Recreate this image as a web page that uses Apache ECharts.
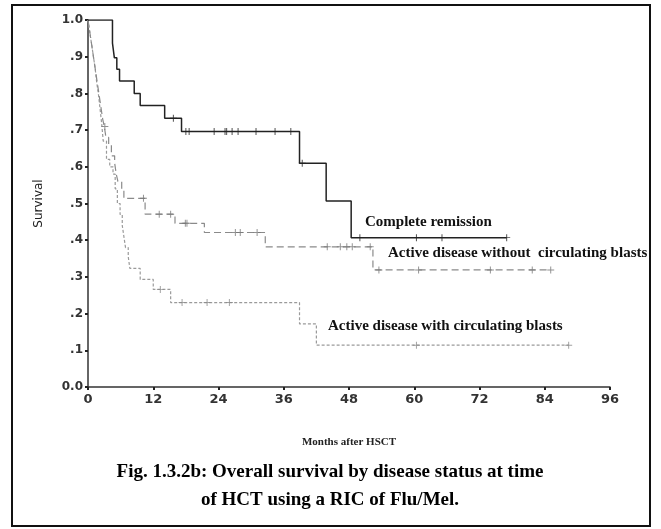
<!DOCTYPE html>
<html>
<head>
<meta charset="utf-8">
<script src="https://cdn.jsdelivr.net/npm/echarts@6.0.0/dist/echarts.min.js"></script>
<style>
  html, body { margin: 0; padding: 0; background: #fff; }
  #chart { width: 661px; height: 529px; }
</style>
</head>
<body>
<div id="chart"></div>
<script>
// Kaplan-Meier curves (months after HSCT vs survival).
var crTimes = [0, 4.5, 4.85, 5.3, 5.8, 8.5, 9.6, 14.1, 17.2, 38.9, 43.8, 48.4, 77];
var crSurv = [1.0, 0.937, 0.897, 0.866, 0.834, 0.800, 0.767, 0.732, 0.696, 0.610, 0.507, 0.407, 0.407];
var crCensored = [15.7, 18.0, 18.6, 23.2, 25.2, 25.5, 26.5, 27.6, 30.9, 34.4, 37.3, 39.4, 50, 60.4, 65.1, 77];

var withoutTimes = [0, 0.3, 0.6, 0.9, 1.2, 1.5, 1.8, 2.1, 2.4, 2.7, 3.0, 3.3, 3.8, 4.3, 4.9, 5.2, 5.5, 6.2, 6.6, 10.5, 16.0, 21.4, 32.6, 52.4, 85.1];
var withoutSurv = [1.0, 0.97, 0.94, 0.91, 0.88, 0.85, 0.82, 0.79, 0.76, 0.73, 0.71, 0.68, 0.66, 0.63, 0.61, 0.58, 0.56, 0.54, 0.514, 0.471, 0.446, 0.421, 0.382, 0.319, 0.319];
var withoutCensored = [3.1, 10.2, 13.1, 15.2, 17.9, 18.2, 27.1, 28, 31.1, 44, 46.4, 47.6, 48.6, 51.9, 53.5, 60.8, 74, 81.7, 85.1];

var withTimes = [0, 0.2, 0.4, 0.7, 1.0, 1.3, 1.6, 1.9, 2.2, 2.5, 2.8, 3.4, 4.0, 4.6, 5.0, 5.4, 5.9, 6.3, 6.6, 6.9, 7.4, 7.7, 9.6, 12, 15.2, 38.9, 42, 88.4];
var withSurv = [1.0, 0.98, 0.96, 0.93, 0.90, 0.87, 0.83, 0.80, 0.76, 0.72, 0.67, 0.62, 0.60, 0.58, 0.54, 0.50, 0.47, 0.44, 0.41, 0.38, 0.355, 0.323, 0.293, 0.266, 0.23, 0.172, 0.114, 0.114];
var withCensored = [13.3, 17.3, 21.9, 26, 60.4, 88.4];

var xTicks = [0, 12, 24, 36, 48, 60, 72, 84, 96];
var yTickLabels = ['0.0', '.1', '.2', '.3', '.4', '.5', '.6', '.7', '.8', '.9', '1.0'];

var CROSS = 'path://M-0.14,-1H0.14V-0.14H1V0.14H0.14V1H-0.14V0.14H-1V-0.14H-0.14Z';
var SERIF = '"Liberation Serif", "Times New Roman", serif';
var SANS = '"DejaVu Sans", Verdana, sans-serif';

function pairs(xs, ys) {
    var out = [];
    for (var i = 0; i < xs.length; i++) out.push([xs[i], ys[i]]);
    return out;
}

// survival value of a step curve at time t (used to put censor marks on the curve)
function survAt(xs, ys, t) {
    var v = ys[0];
    for (var i = 0; i < xs.length; i++) { if (xs[i] <= t) v = ys[i]; }
    return v;
}

function censorPoints(xs, ys, cens) {
    var out = [];
    for (var i = 0; i < cens.length; i++) out.push([cens[i], survAt(xs, ys, cens[i])]);
    return out;
}

function curve(name, xs, ys, color, width, dash) {
    return {
        name: name, type: 'line', step: 'end', data: pairs(xs, ys),
        showSymbol: false, silent: true, z: 3,
        lineStyle: { color: color, width: width, type: dash }
    };
}

function marks(name, xs, ys, cens, color) {
    return {
        name: name, type: 'scatter', data: censorPoints(xs, ys, cens),
        symbol: CROSS, symbolSize: 7, silent: true, z: 4,
        itemStyle: { color: color }
    };
}

var chart = echarts.init(document.getElementById('chart'), null, { renderer: 'canvas' });

chart.setOption({
    animation: false,
    backgroundColor: '#fff',
    grid: { left: 88, right: 51, top: 20, bottom: 142 },
    xAxis: {
        type: 'value', min: 0, max: 96, interval: 12,
        name: 'Months after HSCT', nameLocation: 'middle', nameGap: 50,
        nameTextStyle: { fontFamily: SERIF, fontSize: 11, fontWeight: 'bold', color: '#222' },
        axisLine: { show: true, onZero: false, lineStyle: { color: '#333', width: 1.5 } },
        axisTick: { show: true, length: 3, lineStyle: { color: '#222', width: 2 } },
        axisLabel: {
            fontFamily: SANS, fontSize: 13, fontWeight: 'bold', color: '#333', margin: 6,
            formatter: function (v) { return xTicks.indexOf(v) >= 0 ? String(v) : ''; }
        },
        splitLine: { show: false }
    },
    yAxis: {
        type: 'value', min: 0, max: 1, interval: 0.1,
        name: 'Survival', nameLocation: 'middle', nameGap: 43, nameRotate: 90,
        nameTextStyle: { fontFamily: SANS, fontSize: 12, color: '#222' },
        axisLine: { show: true, lineStyle: { color: '#333', width: 1.5 } },
        axisTick: { show: true, length: 3, lineStyle: { color: '#222', width: 2 } },
        axisLabel: {
            fontFamily: SANS, fontSize: 12, fontWeight: 'bold', color: '#333', margin: 5,
            formatter: function (v) { return yTickLabels[Math.round(v * 10)]; }
        },
        splitLine: { show: false }
    },
    series: [
        curve('Active disease with circulating blasts', withTimes, withSurv, '#9a9a9a', 1.2, [3, 2]),
        marks('with marks', withTimes, withSurv, withCensored, '#8a8a8a'),
        curve('Active disease without circulating blasts', withoutTimes, withoutSurv, '#8a8a8a', 1.2, [7, 4]),
        marks('without marks', withoutTimes, withoutSurv, withoutCensored, '#777'),
        curve('Complete remission', crTimes, crSurv, '#222', 1.5, 'solid'),
        marks('cr marks', crTimes, crSurv, crCensored, '#222')
    ],
    graphic: [
        { type: 'rect', shape: { x: 12, y: 5, width: 638, height: 521 },
          style: { fill: 'none', stroke: '#111', lineWidth: 2 }, silent: true },
        { type: 'text', x: 365, y: 215,
          style: { text: 'Complete remission', font: 'bold 15px ' + SERIF, fill: '#111' } },
        { type: 'text', x: 388, y: 246,
          style: { text: 'Active disease without  circulating blasts', font: 'bold 15px ' + SERIF, fill: '#111' } },
        { type: 'text', x: 328, y: 319,
          style: { text: 'Active disease with circulating blasts', font: 'bold 15px ' + SERIF, fill: '#111' } },
        { type: 'text', x: 330, y: 458,
          style: { text: 'Fig. 1.3.2b: Overall survival by disease status at time\nof HCT using a RIC of Flu/Mel.',
                   font: 'bold 19px ' + SERIF, fill: '#000', align: 'center', lineHeight: 28 } }
    ]
});
</script>
</body>
</html>
